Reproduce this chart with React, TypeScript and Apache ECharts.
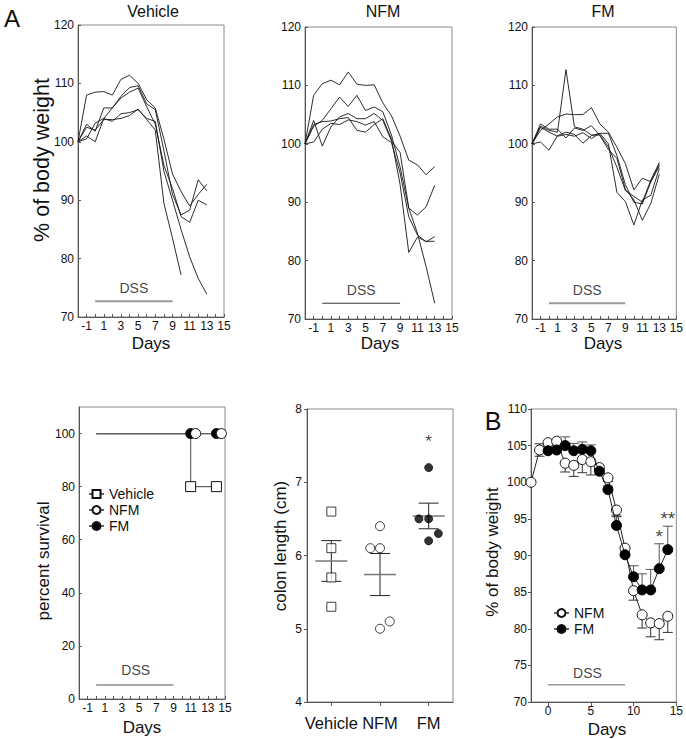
import React, { useEffect, useRef } from 'react';
import * as echarts from 'echarts';

const FONT = '"Liberation Sans", Arial, Helvetica, sans-serif';

// ---------- Panel A, top row: individual body-weight curves ----------
const topDays = [-2, -1, 0, 1, 2, 3, 4, 5, 6, 7, 8, 9, 10, 11, 12, 13];
const vehicleMice = [
  [100, 108.0, 108.5, 108.6, 108.0, 110.7, 111.4, 110.0, 107.2, 105.8, 100.5, 94.5, 91.5, 89.0, 91.0, 92.7],
  [100, 103.0, 101.8, 105.8, 105.8, 107.8, 109.3, 109.6, 106.5, 105.5, 98.5, 91.0, 87.5, 88.3, 93.5, 91.6],
  [100, 101.0, 100.0, 104.0, 105.8, 107.5, 108.5, 109.2, 106.0, 103.0, 96.0, 92.0, 87.2, 86.2, 90.0, 89.2],
  [100, 102.5, 102.0, 103.8, 103.8, 104.0, 104.5, 105.6, 103.8, 102.0, 89.5, 83.5, 77.2],
  [100, 100.5, 103.2, 104.0, 103.5, 104.8, 105.0, 105.5, 104.0, 103.5, 95.0, 90.0, 85.0, 80.3, 76.6, 73.9],
];
const nfmMice = [
  [100, 108.3, 110.3, 110.9, 110.1, 112.3, 110.2, 110.0, 110.1, 107.0, 104.8, 101.3, 97.2, 96.4, 94.7, 96.1],
  [100, 103.0, 104.0, 106.0, 108.0, 106.4, 108.3, 105.7, 106.3, 105.5, 101.5, 96.0, 89.0, 87.8, 89.2, 92.9],
  [100, 104.0, 99.6, 102.9, 104.6, 105.2, 104.3, 104.3, 105.2, 104.0, 100.5, 98.5, 89.0, 84.7, 79.0, 72.7],
  [100, 103.3, 103.8, 103.9, 104.3, 104.5, 102.3, 102.0, 103.3, 104.3, 100.8, 93.0, 81.4, 84.0, 83.3, 83.3],
  [100, 100.3, 102.5, 103.5, 103.3, 104.1, 103.8, 103.2, 103.8, 101.2, 100.2, 95.0, 87.5, 84.4, 83.2, 84.1],
];
const fmMice = [
  [100, 103.0, 102.3, 102.0, 112.7, 102.9, 102.5, 101.5, 101.5, 99.5, 96.0, 92.0, 91.0, 90.0, 93.8, 96.8],
  [100, 102.3, 103.4, 104.6, 105.1, 105.0, 105.0, 106.2, 103.4, 102.0, 99.4, 96.6, 92.1, 94.1, 93.5, 96.5],
  [100, 100.3, 98.9, 101.4, 102.0, 101.6, 100.1, 101.4, 101.8, 100.0, 91.7, 90.1, 86.1, 90.4, 91.2, 95.8],
  [100, 103.4, 102.5, 102.5, 101.0, 102.7, 102.3, 103.1, 101.4, 99.0, 97.5, 92.2, 90.4, 86.9, 89.8, 94.8],
  [100, 102.8, 102.0, 101.3, 101.6, 101.3, 101.9, 100.9, 101.8, 101.8, 98.0, 93.0, 90.0, 89.7, 93.5, 96.2],
];
const topTitles = ['Vehicle', 'NFM', 'FM'];

// DSS exposure period
const dssDays = [0, 9];

// ---------- Survival ----------
const survivalGroups = ['Vehicle', 'NFM', 'FM'];
const survVehicleDays = [0, 11, 11, 14];
const survVehicle = [100, 100, 80, 80];
const survVehicleMarked = [false, false, true, true];
const survNfmDays = [0, 11, 14];
const survNfm = [100, 100, 100];
const survNfmMarked = [false, true, true];
const survFmDays = [0, 11, 14];
const survFm = [100, 100, 100];
const survFmMarked = [false, true, true];
const survTicks = [0, 20, 40, 60, 80, 100];

// ---------- Colon length ----------
const colonGroups = ['Vehicle', 'NFM', 'FM'];
const colonVehicle = [6.6, 6.1, 5.7, 5.3];
const colonVehicleJitter = [0, 0, 0, 0];
const colonNfm = [6.4, 6.1, 6.1, 5.0, 5.1];
const colonNfmJitter = [0, -0.2, 0, 0, 0.2];
const colonFm = [7.2, 6.5, 6.5, 6.3, 6.2];
const colonFmJitter = [0, -0.2, 0, 0.2, 0];

// ---------- Panel B: mean body weight ----------
const bDays = [-2, -1, 0, 1, 2, 3, 4, 5, 6, 7, 8, 9, 10, 11, 12, 13, 14];
const bNfm = [100, 104.4, 105.4, 105.6, 102.6, 102.3, 103.1, 102.8, 102.0, 100.6, 96.2, 91.0, 85.2, 81.9, 80.8, 80.7, 81.7];
const bNfmSem = [0, 0.85, 0.3, 0.3, 1.2, 1.5, 1.8, 1.8, 0.6, 0.5, 0.9, 0.5, 1.3, 1.8, 1.9, 2.2, 2.2];
const bFm = [null, null, 104.3, 104.4, 105.0, 104.3, 104.5, 104.3, 101.5, 99.0, 94.1, 90.1, 87.1, 85.3, 85.3, 88.2, 90.8];
const bFmSem = [null, null, 0.5, 0.5, 1.2, 1.0, 1.0, 0.8, 0.5, 0.5, 1.4, 0.9, 1.5, 2.2, 2.8, 3.4, 3.2];
const bTicks = [0, 5, 10, 15];
const bStars = [
  { day: 13, label: '*' },
  { day: 14, label: '**' },
];

function mean(a: number[]) {
  return a.reduce((s, v) => s + v, 0) / a.length;
}
function sem(a: number[]) {
  const m = mean(a);
  const v = a.reduce((s, x) => s + (x - m) * (x - m), 0) / (a.length - 1);
  return Math.sqrt(v) / Math.sqrt(a.length);
}

const AXIS = '#555';
const TXT = '#111';

function dayAxis(gi: number) {
  return {
    type: 'value',
    gridIndex: gi,
    min: -2,
    max: 15,
    interval: 1,
    axisLine: { show: true, onZero: false, lineStyle: { color: AXIS } },
    axisTick: { show: true, inside: true, length: 3, lineStyle: { color: AXIS } },
    axisLabel: {
      fontSize: 12,
      color: TXT,
      fontFamily: FONT,
      margin: 3,
      formatter: (v: number) => (Math.abs(v) % 2 === 1 ? String(v) : ''),
    },
    splitLine: { show: false },
  };
}

function valAxis(gi: number, min: number, max: number, interval: number, extra: any = {}) {
  return {
    type: 'value',
    gridIndex: gi,
    min,
    max,
    interval,
    axisLine: { show: true, onZero: false, lineStyle: { color: AXIS } },
    axisTick: { show: true, length: 3, lineStyle: { color: AXIS } },
    axisLabel: { fontSize: 12, color: TXT, fontFamily: FONT, margin: 4 },
    splitLine: { show: false },
    ...extra,
  };
}

function textLabelSeries(xi: number, yi: number, pos: [number, number], text: string, fontSize: number, z = 5) {
  return {
    type: 'scatter',
    xAxisIndex: xi,
    yAxisIndex: yi,
    symbolSize: 0,
    silent: true,
    z,
    data: [pos],
    label: {
      show: true,
      position: 'inside',
      formatter: text,
      fontSize,
      fontFamily: FONT,
      color: TXT,
    },
  };
}

function buildOption() {
  const grids = [
    { left: 78, top: 25, width: 146, height: 292 },
    { left: 305, top: 27, width: 147, height: 292 },
    { left: 532, top: 27, width: 146, height: 292 },
    { left: 79, top: 407, width: 146, height: 292 },
    { left: 307, top: 409, width: 146, height: 293 },
    { left: 531, top: 409, width: 147, height: 293 },
  ].map((g) => ({ ...g, show: true, borderColor: '#8a8a8a', borderWidth: 1, backgroundColor: 'transparent' }));

  const xAxis: any[] = [
    dayAxis(0),
    dayAxis(1),
    dayAxis(2),
    dayAxis(3),
    {
      type: 'category',
      gridIndex: 4,
      data: colonGroups,
      boundaryGap: true,
      axisLine: { show: true, onZero: false, lineStyle: { color: AXIS } },
      axisTick: { show: true, alignWithLabel: true, length: 4, lineStyle: { color: AXIS } },
      axisLabel: { interval: 0, fontSize: 16.5, color: TXT, fontFamily: FONT, margin: 12 },
    },
    { type: 'value', gridIndex: 4, min: -0.5, max: 2.5, show: false, axisLine: { onZero: false } },
    {
      type: 'value',
      gridIndex: 5,
      min: -2,
      max: 15,
      axisLine: { show: true, onZero: false, lineStyle: { color: AXIS } },
      axisTick: { show: true, length: 4, lineStyle: { color: AXIS }, customValues: bTicks },
      axisLabel: { fontSize: 12, color: TXT, fontFamily: FONT, margin: 3, customValues: bTicks },
      splitLine: { show: false },
    },
  ];

  const insideTick = { show: true, inside: true, length: 3, lineStyle: { color: AXIS } };
  const yAxis: any[] = [
    valAxis(0, 70, 120, 10, { axisTick: insideTick }),
    valAxis(1, 70, 120, 10, { axisTick: insideTick }),
    valAxis(2, 70, 120, 10, { axisTick: insideTick }),
    {
      type: 'value',
      gridIndex: 3,
      min: 0,
      max: 110,
      axisLine: { show: true, onZero: false, lineStyle: { color: AXIS } },
      axisTick: { ...insideTick, customValues: survTicks },
      axisLabel: { fontSize: 12, color: TXT, fontFamily: FONT, margin: 4, customValues: survTicks },
      splitLine: { show: false },
    },
    valAxis(4, 4, 8, 1, { axisLabel: { fontSize: 12, color: TXT, fontFamily: FONT, margin: 5 } }),
    valAxis(5, 70, 110, 5),
  ];

  const series: any[] = [];

  // Top row
  [vehicleMice, nfmMice, fmMice].forEach((mice, pi) => {
    mice.forEach((m) =>
      series.push({
        type: 'line',
        xAxisIndex: pi,
        yAxisIndex: pi,
        data: m.map((v, i) => [topDays[i], v]),
        symbol: 'none',
        silent: true,
        lineStyle: { color: '#151515', width: 0.9 },
      })
    );
    series.push({
      type: 'line',
      xAxisIndex: pi,
      yAxisIndex: pi,
      data: dssDays.map((d) => [d, 72.7]),
      symbol: 'none',
      silent: true,
      lineStyle: { color: pi === 1 ? '#333' : '#9a9a9a', width: pi === 1 ? 1 : 2 },
    });
    series.push(textLabelSeries(pi, pi, [4.5, 75.0], 'DSS', 14));
  });

  // Survival
  const survSeries = (
    name: string,
    days: number[],
    vals: number[],
    marked: boolean[],
    symbol: string,
    fill: string,
    offset: number[]
  ) => ({
    type: 'line',
    name,
    xAxisIndex: 3,
    yAxisIndex: 3,
    symbol,
    symbolSize: 10,
    symbolOffset: offset,
    showAllSymbol: true,
    lineStyle: { color: '#666', width: 1.2 },
    itemStyle: { color: fill, borderColor: '#111', borderWidth: 1 },
    data: days.map((d, i) => (marked[i] ? { value: [d, vals[i]] } : { value: [d, vals[i]], symbol: 'none' })),
  });
  series.push(survSeries('Vehicle', survVehicleDays, survVehicle, survVehicleMarked, 'rect', '#fff', [0, 0]));
  series.push(survSeries('FM', survFmDays, survFm, survFmMarked, 'circle', '#000', [0, 0]));
  series.push(survSeries('NFM', survNfmDays, survNfm, survNfmMarked, 'circle', '#fff', [5, 0]));
  series.push({
    type: 'line',
    xAxisIndex: 3,
    yAxisIndex: 3,
    data: dssDays.map((d) => [d, 5.3]),
    symbol: 'none',
    silent: true,
    lineStyle: { color: '#8a8a8a', width: 1.5 },
  });
  series.push(textLabelSeries(3, 3, [4.6, 11], 'DSS', 14));

  // Colon length
  const colonSets = [
    { vals: colonVehicle, jit: colonVehicleJitter, symbol: 'rect', fill: '#fff', size: 9 },
    { vals: colonNfm, jit: colonNfmJitter, symbol: 'circle', fill: '#fff', size: 9 },
    { vals: colonFm, jit: colonFmJitter, symbol: 'circle', fill: '#000', size: 8 },
  ];
  series.push({
    type: 'custom',
    xAxisIndex: 5,
    yAxisIndex: 4,
    silent: true,
    z: 1,
    data: colonSets.map((s, i) => [i, mean(s.vals), sem(s.vals)]),
    renderItem: (_p: any, api: any) => {
      const x = api.value(0);
      const m = api.value(1);
      const e = api.value(2);
      const pm = api.coord([x, m]);
      const pl = api.coord([x, m - e]);
      const ph = api.coord([x, m + e]);
      const dark = { stroke: '#222', lineWidth: 1 };
      return {
        type: 'group',
        children: [
          { type: 'line', shape: { x1: pl[0], y1: pl[1], x2: ph[0], y2: ph[1] }, style: dark },
          { type: 'line', shape: { x1: pl[0] - 10, y1: pl[1], x2: pl[0] + 10, y2: pl[1] }, style: dark },
          { type: 'line', shape: { x1: ph[0] - 10, y1: ph[1], x2: ph[0] + 10, y2: ph[1] }, style: dark },
          { type: 'line', shape: { x1: pm[0] - 16, y1: pm[1], x2: pm[0] + 16, y2: pm[1] }, style: { stroke: '#777', lineWidth: 1.5 } },
        ],
      };
    },
  });
  colonSets.forEach((s, gi) =>
    series.push({
      type: 'scatter',
      xAxisIndex: 5,
      yAxisIndex: 4,
      symbol: s.symbol,
      symbolSize: s.size,
      silent: true,
      z: 3,
      itemStyle: { color: s.fill, borderColor: '#111', borderWidth: 1 },
      data: s.vals.map((v, i) => [gi + s.jit[i], v]),
    })
  );
  series.push(textLabelSeries(5, 4, [2, 7.55], '*', 17));

  // Panel B
  const errData: number[][] = [];
  bDays.forEach((d, i) => {
    const nv = bNfm[i];
    const ns = bNfmSem[i];
    if (ns > 0) {
      errData.push([d, nv, nv - ns, 0]);
      if (bFm[i] == null) errData.push([d, nv, nv + ns, 0]);
    }
    const fv = bFm[i];
    const fs = bFmSem[i];
    if (fv != null && fs != null) errData.push([d, fv, fv + fs, 1]);
  });
  series.push({
    type: 'custom',
    xAxisIndex: 6,
    yAxisIndex: 5,
    silent: true,
    z: 1,
    data: errData,
    renderItem: (_p: any, api: any) => {
      const a = api.coord([api.value(0), api.value(1)]);
      const b = api.coord([api.value(0), api.value(2)]);
      const col = api.value(3) === 1 ? '#555' : '#333';
      const st = { stroke: col, lineWidth: 1 };
      return {
        type: 'group',
        children: [
          { type: 'line', shape: { x1: a[0], y1: a[1], x2: b[0], y2: b[1] }, style: st },
          { type: 'line', shape: { x1: b[0] - 5, y1: b[1], x2: b[0] + 5, y2: b[1] }, style: st },
        ],
      };
    },
  });
  series.push({
    type: 'line',
    name: 'NFM',
    xAxisIndex: 6,
    yAxisIndex: 5,
    symbol: 'circle',
    symbolSize: 10,
    showAllSymbol: true,
    z: 3,
    lineStyle: { color: '#222', width: 1 },
    itemStyle: { color: '#fff', borderColor: '#111', borderWidth: 1 },
    data: bDays.map((d, i) => [d, bNfm[i]]),
  });
  series.push({
    type: 'line',
    name: 'FM',
    xAxisIndex: 6,
    yAxisIndex: 5,
    symbol: 'circle',
    symbolSize: 10,
    showAllSymbol: true,
    z: 4,
    lineStyle: { color: '#222', width: 1 },
    itemStyle: { color: '#000', borderColor: '#000', borderWidth: 1 },
    data: bDays.map((d, i) => [d, bFm[i]]),
  });
  bStars.forEach((s) => {
    const i = bDays.indexOf(s.day);
    const top = (bFm[i] as number) + (bFmSem[i] as number);
    series.push(textLabelSeries(6, 5, [s.day, top + 1.0], s.label, 19, 6));
  });
  series.push({
    type: 'line',
    xAxisIndex: 6,
    yAxisIndex: 5,
    data: dssDays.map((d) => [d, 72.35]),
    symbol: 'none',
    silent: true,
    lineStyle: { color: '#9a9a9a', width: 1.5 },
  });
  series.push(textLabelSeries(6, 5, [4.6, 74.0], 'DSS', 14));

  const t = (text: string, x: number, y: number, fontSize: number, rotate = false, weight: any = 'normal') => ({
    type: 'text',
    x,
    y,
    rotation: rotate ? Math.PI / 2 : 0,
    silent: true,
    style: {
      text,
      align: 'center',
      verticalAlign: 'middle',
      textAlign: 'center',
      textVerticalAlign: 'middle',
      fontSize,
      fontFamily: FONT,
      fontWeight: weight,
      fill: TXT,
    },
  });

  const graphic = [
    t('A', 12, 18, 24),
    t('B', 493, 421, 25),
    t(topTitles[0], 153, 11, 16),
    t(topTitles[1], 383, 11, 16),
    t(topTitles[2], 603, 11, 16),
    t('% of body weight', 42, 160, 21.5, true),
    t('Days', 151, 343, 17),
    t('Days', 380, 343, 17),
    t('Days', 603, 343, 17),
    t('percent survival', 43, 561, 17, true),
    t('Days', 142, 727, 17),
    t('colon length (cm)', 280, 546, 17, true),
    t('% of body weight', 492, 552, 17, true),
    t('Days', 607, 729, 17),
  ];

  const legendText = { fontSize: 14, fontFamily: FONT, color: TXT };
  return {
    animation: false,
    backgroundColor: '#fff',
    textStyle: { fontFamily: FONT },
    grid: grids,
    xAxis,
    yAxis,
    series,
    graphic,
    legend: [
      {
        data: survivalGroups,
        orient: 'vertical',
        left: 83,
        top: 482,
        itemWidth: 15,
        itemHeight: 10,
        itemGap: 2,
        selectedMode: false,
        textStyle: legendText,
      },
      {
        data: ['NFM', 'FM'],
        orient: 'vertical',
        left: 548,
        top: 601,
        itemWidth: 15,
        itemHeight: 10,
        itemGap: 2,
        selectedMode: false,
        textStyle: legendText,
      },
    ],
  };
}

export default function App() {
  const ref = useRef<HTMLDivElement>(null);
  useEffect(() => {
    document.body.style.margin = '0';
    const chart = echarts.init(ref.current as HTMLDivElement, null, { renderer: 'svg' });
    chart.setOption(buildOption() as any);
    return () => chart.dispose();
  }, []);
  return <div ref={ref} style={{ width: 686, height: 739 }} />;
}
